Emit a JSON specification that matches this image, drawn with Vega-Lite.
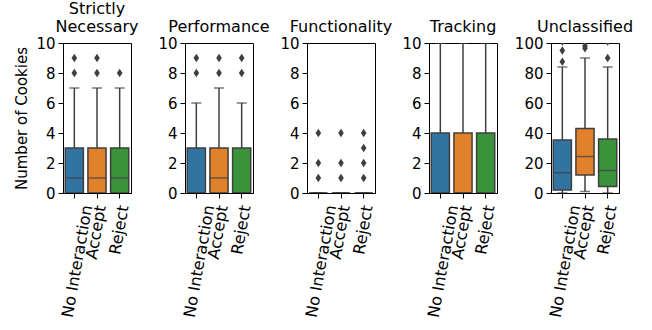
{
  "$schema": "https://vega.github.io/schema/vega-lite/v6.json",
  "background": "white",
  "padding": {"left": 14, "top": 0, "right": 5, "bottom": 0},
  "bounds": "flush",
  "spacing": 54,
  "config": {
    "font": "DejaVu Sans",
    "view": {"stroke": "black", "strokeWidth": 1},
    "axis": {"grid": false, "domainColor": "black", "tickColor": "black", "labelColor": "black", "titleColor": "black", "labelFontSize": 15, "titleFontSize": 15, "titleFontWeight": "normal", "labelFont": "DejaVu Sans", "titleFont": "DejaVu Sans", "tickSize": 5},
    "axisY": {"labelPadding": 3, "titlePadding": 6},
    "axisX": {"labelFontSize": 16},
    "title": {"fontSize": 16, "fontWeight": "normal", "font": "DejaVu Sans", "color": "black", "baseline": "alphabetic", "offset": 1, "lineHeight": 18}
  },
  "datasets": {
    "stats": [
      {"panel": "Strictly Necessary", "group": "No Interaction", "lower": 0, "q1": 0, "median": 1, "q3": 3, "upper": 7},
      {"panel": "Strictly Necessary", "group": "Accept", "lower": 0, "q1": 0, "median": 1, "q3": 3, "upper": 7},
      {"panel": "Strictly Necessary", "group": "Reject", "lower": 0, "q1": 0, "median": 1, "q3": 3, "upper": 7},
      {"panel": "Performance", "group": "No Interaction", "lower": 0, "q1": 0, "median": 0, "q3": 3, "upper": 6},
      {"panel": "Performance", "group": "Accept", "lower": 0, "q1": 0, "median": 1, "q3": 3, "upper": 7},
      {"panel": "Performance", "group": "Reject", "lower": 0, "q1": 0, "median": 0, "q3": 3, "upper": 6},
      {"panel": "Functionality", "group": "No Interaction", "lower": 0, "q1": 0, "median": 0, "q3": 0, "upper": 0},
      {"panel": "Functionality", "group": "Accept", "lower": 0, "q1": 0, "median": 0, "q3": 0, "upper": 0},
      {"panel": "Functionality", "group": "Reject", "lower": 0, "q1": 0, "median": 0, "q3": 0, "upper": 0},
      {"panel": "Tracking", "group": "No Interaction", "lower": 0, "q1": 0, "median": 0, "q3": 4, "upper": 10},
      {"panel": "Tracking", "group": "Accept", "lower": 0, "q1": 0, "median": 0, "q3": 4, "upper": 10},
      {"panel": "Tracking", "group": "Reject", "lower": 0, "q1": 0, "median": 0, "q3": 4, "upper": 10},
      {"panel": "Unclassified", "group": "No Interaction", "lower": 0, "q1": 2, "median": 13.5, "q3": 35.3, "upper": 84},
      {"panel": "Unclassified", "group": "Accept", "lower": 1, "q1": 12, "median": 24.3, "q3": 43, "upper": 90},
      {"panel": "Unclassified", "group": "Reject", "lower": 0, "q1": 4.3, "median": 15, "q3": 36, "upper": 84}
    ],
    "outliers": [
      {"panel": "Strictly Necessary", "group": "No Interaction", "value": 8},
      {"panel": "Strictly Necessary", "group": "No Interaction", "value": 9},
      {"panel": "Strictly Necessary", "group": "Accept", "value": 8},
      {"panel": "Strictly Necessary", "group": "Accept", "value": 9},
      {"panel": "Strictly Necessary", "group": "Reject", "value": 8},
      {"panel": "Performance", "group": "No Interaction", "value": 8},
      {"panel": "Performance", "group": "No Interaction", "value": 9},
      {"panel": "Performance", "group": "Accept", "value": 8},
      {"panel": "Performance", "group": "Accept", "value": 9},
      {"panel": "Performance", "group": "Reject", "value": 8},
      {"panel": "Performance", "group": "Reject", "value": 9},
      {"panel": "Functionality", "group": "No Interaction", "value": 1},
      {"panel": "Functionality", "group": "No Interaction", "value": 2},
      {"panel": "Functionality", "group": "No Interaction", "value": 4},
      {"panel": "Functionality", "group": "Accept", "value": 1},
      {"panel": "Functionality", "group": "Accept", "value": 2},
      {"panel": "Functionality", "group": "Accept", "value": 4},
      {"panel": "Functionality", "group": "Reject", "value": 1},
      {"panel": "Functionality", "group": "Reject", "value": 2},
      {"panel": "Functionality", "group": "Reject", "value": 3},
      {"panel": "Functionality", "group": "Reject", "value": 4},
      {"panel": "Unclassified", "group": "No Interaction", "value": 87.5},
      {"panel": "Unclassified", "group": "No Interaction", "value": 95},
      {"panel": "Unclassified", "group": "No Interaction", "value": 101},
      {"panel": "Unclassified", "group": "Accept", "value": 96.5},
      {"panel": "Unclassified", "group": "Accept", "value": 98},
      {"panel": "Unclassified", "group": "Accept", "value": 101},
      {"panel": "Unclassified", "group": "Reject", "value": 90},
      {"panel": "Unclassified", "group": "Reject", "value": 101}
    ]
  },
  "hconcat": [
    {
      "title": {"text": ["Strictly", "Necessary"]},
      "width": 68, "height": 150,
      "data": {"name": "stats"},
      "transform": [{"filter": "datum.panel == 'Strictly Necessary'"}],
      "encoding": {"x": {"field": "group", "type": "nominal", "sort": ["No Interaction", "Accept", "Reject"], "scale": {"domain": ["No Interaction", "Accept", "Reject"], "paddingInner": 0, "paddingOuter": 0}, "axis": {"title": null, "labelAngle": -80, "labelAlign": "right", "labelBaseline": "middle", "labelPadding": 7, "labelOffset": {"condition": {"test": "datum.value == 'No Interaction'", "value": 13}, "value": 4}}}},
      "layer": [
        {"mark": {"type": "rule", "color": "#3f3f3f", "strokeWidth": 1.5, "clip": true}, "encoding": {"y": {"field": "lower", "type": "quantitative", "scale": {"domain": [0, 10], "nice": false}, "axis": {"title": "Number of Cookies", "values": [0, 2, 4, 6, 8, 10]}}, "y2": {"field": "q1"}}},
        {"mark": {"type": "rule", "color": "#3f3f3f", "strokeWidth": 1.5, "clip": true}, "encoding": {"y": {"field": "q3", "type": "quantitative", "axis": {"title": "Number of Cookies", "values": [0, 2, 4, 6, 8, 10]}}, "y2": {"field": "upper"}}},
        {"mark": {"type": "tick", "color": "#3f3f3f", "size": 10, "thickness": 1.5, "clip": true}, "encoding": {"y": {"field": "lower", "type": "quantitative", "axis": {"title": "Number of Cookies", "values": [0, 2, 4, 6, 8, 10]}}}},
        {"mark": {"type": "tick", "color": "#3f3f3f", "size": 10, "thickness": 1.5, "clip": true}, "encoding": {"y": {"field": "upper", "type": "quantitative", "axis": {"title": "Number of Cookies", "values": [0, 2, 4, 6, 8, 10]}}}},
        {"mark": {"type": "bar", "width": {"band": 0.8}, "stroke": "#3f3f3f", "strokeWidth": 1.5, "opacity": 1, "clip": true}, "encoding": {"y": {"field": "q1", "type": "quantitative", "axis": {"title": "Number of Cookies", "values": [0, 2, 4, 6, 8, 10]}}, "y2": {"field": "q3"}, "color": {"field": "group", "type": "nominal", "scale": {"domain": ["No Interaction", "Accept", "Reject"], "range": ["#3274a1", "#e1812c", "#3a923a"]}, "legend": null}}},
        {"mark": {"type": "tick", "color": "#3f3f3f", "size": 18, "thickness": 1.5, "clip": true}, "encoding": {"y": {"field": "median", "type": "quantitative", "axis": {"title": "Number of Cookies", "values": [0, 2, 4, 6, 8, 10]}}}},
        {"data": {"name": "outliers"}, "transform": [{"filter": "datum.panel == 'Strictly Necessary'"}], "mark": {"type": "point", "shape": "M0,-1L0.65,0L0,1L-0.65,0Z", "filled": true, "color": "#3f3f3f", "size": 75, "opacity": 1, "clip": true}, "encoding": {"y": {"field": "value", "type": "quantitative", "axis": {"title": "Number of Cookies", "values": [0, 2, 4, 6, 8, 10]}}}}
      ]
    },
    {
      "title": {"text": "Performance"},
      "width": 68, "height": 150,
      "data": {"name": "stats"},
      "transform": [{"filter": "datum.panel == 'Performance'"}],
      "encoding": {"x": {"field": "group", "type": "nominal", "sort": ["No Interaction", "Accept", "Reject"], "scale": {"domain": ["No Interaction", "Accept", "Reject"], "paddingInner": 0, "paddingOuter": 0}, "axis": {"title": null, "labelAngle": -80, "labelAlign": "right", "labelBaseline": "middle", "labelPadding": 7, "labelOffset": {"condition": {"test": "datum.value == 'No Interaction'", "value": 13}, "value": 4}}}},
      "layer": [
        {"mark": {"type": "rule", "color": "#3f3f3f", "strokeWidth": 1.5, "clip": true}, "encoding": {"y": {"field": "lower", "type": "quantitative", "scale": {"domain": [0, 10], "nice": false}, "axis": {"title": null, "values": [0, 2, 4, 6, 8, 10]}}, "y2": {"field": "q1"}}},
        {"mark": {"type": "rule", "color": "#3f3f3f", "strokeWidth": 1.5, "clip": true}, "encoding": {"y": {"field": "q3", "type": "quantitative", "axis": {"title": null, "values": [0, 2, 4, 6, 8, 10]}}, "y2": {"field": "upper"}}},
        {"mark": {"type": "tick", "color": "#3f3f3f", "size": 10, "thickness": 1.5, "clip": true}, "encoding": {"y": {"field": "lower", "type": "quantitative", "axis": {"title": null, "values": [0, 2, 4, 6, 8, 10]}}}},
        {"mark": {"type": "tick", "color": "#3f3f3f", "size": 10, "thickness": 1.5, "clip": true}, "encoding": {"y": {"field": "upper", "type": "quantitative", "axis": {"title": null, "values": [0, 2, 4, 6, 8, 10]}}}},
        {"mark": {"type": "bar", "width": {"band": 0.8}, "stroke": "#3f3f3f", "strokeWidth": 1.5, "opacity": 1, "clip": true}, "encoding": {"y": {"field": "q1", "type": "quantitative", "axis": {"title": null, "values": [0, 2, 4, 6, 8, 10]}}, "y2": {"field": "q3"}, "color": {"field": "group", "type": "nominal", "scale": {"domain": ["No Interaction", "Accept", "Reject"], "range": ["#3274a1", "#e1812c", "#3a923a"]}, "legend": null}}},
        {"mark": {"type": "tick", "color": "#3f3f3f", "size": 18, "thickness": 1.5, "clip": true}, "encoding": {"y": {"field": "median", "type": "quantitative", "axis": {"title": null, "values": [0, 2, 4, 6, 8, 10]}}}},
        {"data": {"name": "outliers"}, "transform": [{"filter": "datum.panel == 'Performance'"}], "mark": {"type": "point", "shape": "M0,-1L0.65,0L0,1L-0.65,0Z", "filled": true, "color": "#3f3f3f", "size": 75, "opacity": 1, "clip": true}, "encoding": {"y": {"field": "value", "type": "quantitative", "axis": {"title": null, "values": [0, 2, 4, 6, 8, 10]}}}}
      ]
    },
    {
      "title": {"text": "Functionality"},
      "width": 68, "height": 150,
      "data": {"name": "stats"},
      "transform": [{"filter": "datum.panel == 'Functionality'"}],
      "encoding": {"x": {"field": "group", "type": "nominal", "sort": ["No Interaction", "Accept", "Reject"], "scale": {"domain": ["No Interaction", "Accept", "Reject"], "paddingInner": 0, "paddingOuter": 0}, "axis": {"title": null, "labelAngle": -80, "labelAlign": "right", "labelBaseline": "middle", "labelPadding": 7, "labelOffset": {"condition": {"test": "datum.value == 'No Interaction'", "value": 13}, "value": 4}}}},
      "layer": [
        {"mark": {"type": "rule", "color": "#3f3f3f", "strokeWidth": 1.5, "clip": true}, "encoding": {"y": {"field": "lower", "type": "quantitative", "scale": {"domain": [0, 10], "nice": false}, "axis": {"title": null, "values": [0, 2, 4, 6, 8, 10]}}, "y2": {"field": "q1"}}},
        {"mark": {"type": "rule", "color": "#3f3f3f", "strokeWidth": 1.5, "clip": true}, "encoding": {"y": {"field": "q3", "type": "quantitative", "axis": {"title": null, "values": [0, 2, 4, 6, 8, 10]}}, "y2": {"field": "upper"}}},
        {"mark": {"type": "tick", "color": "#3f3f3f", "size": 10, "thickness": 1.5, "clip": true}, "encoding": {"y": {"field": "lower", "type": "quantitative", "axis": {"title": null, "values": [0, 2, 4, 6, 8, 10]}}}},
        {"mark": {"type": "tick", "color": "#3f3f3f", "size": 10, "thickness": 1.5, "clip": true}, "encoding": {"y": {"field": "upper", "type": "quantitative", "axis": {"title": null, "values": [0, 2, 4, 6, 8, 10]}}}},
        {"mark": {"type": "bar", "width": {"band": 0.8}, "stroke": "#3f3f3f", "strokeWidth": 1.5, "opacity": 1, "clip": true}, "encoding": {"y": {"field": "q1", "type": "quantitative", "axis": {"title": null, "values": [0, 2, 4, 6, 8, 10]}}, "y2": {"field": "q3"}, "color": {"field": "group", "type": "nominal", "scale": {"domain": ["No Interaction", "Accept", "Reject"], "range": ["#3274a1", "#e1812c", "#3a923a"]}, "legend": null}}},
        {"mark": {"type": "tick", "color": "#3f3f3f", "size": 18, "thickness": 1.5, "clip": true}, "encoding": {"y": {"field": "median", "type": "quantitative", "axis": {"title": null, "values": [0, 2, 4, 6, 8, 10]}}}},
        {"data": {"name": "outliers"}, "transform": [{"filter": "datum.panel == 'Functionality'"}], "mark": {"type": "point", "shape": "M0,-1L0.65,0L0,1L-0.65,0Z", "filled": true, "color": "#3f3f3f", "size": 75, "opacity": 1, "clip": true}, "encoding": {"y": {"field": "value", "type": "quantitative", "axis": {"title": null, "values": [0, 2, 4, 6, 8, 10]}}}}
      ]
    },
    {
      "title": {"text": "Tracking"},
      "width": 68, "height": 150,
      "data": {"name": "stats"},
      "transform": [{"filter": "datum.panel == 'Tracking'"}],
      "encoding": {"x": {"field": "group", "type": "nominal", "sort": ["No Interaction", "Accept", "Reject"], "scale": {"domain": ["No Interaction", "Accept", "Reject"], "paddingInner": 0, "paddingOuter": 0}, "axis": {"title": null, "labelAngle": -80, "labelAlign": "right", "labelBaseline": "middle", "labelPadding": 7, "labelOffset": {"condition": {"test": "datum.value == 'No Interaction'", "value": 13}, "value": 4}}}},
      "layer": [
        {"mark": {"type": "rule", "color": "#3f3f3f", "strokeWidth": 1.5, "clip": true}, "encoding": {"y": {"field": "lower", "type": "quantitative", "scale": {"domain": [0, 10], "nice": false}, "axis": {"title": null, "values": [0, 2, 4, 6, 8, 10]}}, "y2": {"field": "q1"}}},
        {"mark": {"type": "rule", "color": "#3f3f3f", "strokeWidth": 1.5, "clip": true}, "encoding": {"y": {"field": "q3", "type": "quantitative", "axis": {"title": null, "values": [0, 2, 4, 6, 8, 10]}}, "y2": {"field": "upper"}}},
        {"mark": {"type": "tick", "color": "#3f3f3f", "size": 10, "thickness": 1.5, "clip": true}, "encoding": {"y": {"field": "lower", "type": "quantitative", "axis": {"title": null, "values": [0, 2, 4, 6, 8, 10]}}}},
        {"mark": {"type": "tick", "color": "#3f3f3f", "size": 10, "thickness": 1.5, "clip": true}, "encoding": {"y": {"field": "upper", "type": "quantitative", "axis": {"title": null, "values": [0, 2, 4, 6, 8, 10]}}}},
        {"mark": {"type": "bar", "width": {"band": 0.8}, "stroke": "#3f3f3f", "strokeWidth": 1.5, "opacity": 1, "clip": true}, "encoding": {"y": {"field": "q1", "type": "quantitative", "axis": {"title": null, "values": [0, 2, 4, 6, 8, 10]}}, "y2": {"field": "q3"}, "color": {"field": "group", "type": "nominal", "scale": {"domain": ["No Interaction", "Accept", "Reject"], "range": ["#3274a1", "#e1812c", "#3a923a"]}, "legend": null}}},
        {"mark": {"type": "tick", "color": "#3f3f3f", "size": 18, "thickness": 1.5, "clip": true}, "encoding": {"y": {"field": "median", "type": "quantitative", "axis": {"title": null, "values": [0, 2, 4, 6, 8, 10]}}}}
      ]
    },
    {
      "title": {"text": "Unclassified"},
      "width": 68, "height": 150,
      "data": {"name": "stats"},
      "transform": [{"filter": "datum.panel == 'Unclassified'"}],
      "encoding": {"x": {"field": "group", "type": "nominal", "sort": ["No Interaction", "Accept", "Reject"], "scale": {"domain": ["No Interaction", "Accept", "Reject"], "paddingInner": 0, "paddingOuter": 0}, "axis": {"title": null, "labelAngle": -80, "labelAlign": "right", "labelBaseline": "middle", "labelPadding": 7, "labelOffset": {"condition": {"test": "datum.value == 'No Interaction'", "value": 13}, "value": 4}}}},
      "layer": [
        {"mark": {"type": "rule", "color": "#3f3f3f", "strokeWidth": 1.5, "clip": true}, "encoding": {"y": {"field": "lower", "type": "quantitative", "scale": {"domain": [0, 100], "nice": false}, "axis": {"title": null, "values": [0, 20, 40, 60, 80, 100]}}, "y2": {"field": "q1"}}},
        {"mark": {"type": "rule", "color": "#3f3f3f", "strokeWidth": 1.5, "clip": true}, "encoding": {"y": {"field": "q3", "type": "quantitative", "axis": {"title": null, "values": [0, 20, 40, 60, 80, 100]}}, "y2": {"field": "upper"}}},
        {"mark": {"type": "tick", "color": "#3f3f3f", "size": 10, "thickness": 1.5, "clip": true}, "encoding": {"y": {"field": "lower", "type": "quantitative", "axis": {"title": null, "values": [0, 20, 40, 60, 80, 100]}}}},
        {"mark": {"type": "tick", "color": "#3f3f3f", "size": 10, "thickness": 1.5, "clip": true}, "encoding": {"y": {"field": "upper", "type": "quantitative", "axis": {"title": null, "values": [0, 20, 40, 60, 80, 100]}}}},
        {"mark": {"type": "bar", "width": {"band": 0.8}, "stroke": "#3f3f3f", "strokeWidth": 1.5, "opacity": 1, "clip": true}, "encoding": {"y": {"field": "q1", "type": "quantitative", "axis": {"title": null, "values": [0, 20, 40, 60, 80, 100]}}, "y2": {"field": "q3"}, "color": {"field": "group", "type": "nominal", "scale": {"domain": ["No Interaction", "Accept", "Reject"], "range": ["#3274a1", "#e1812c", "#3a923a"]}, "legend": null}}},
        {"mark": {"type": "tick", "color": "#3f3f3f", "size": 18, "thickness": 1.5, "clip": true}, "encoding": {"y": {"field": "median", "type": "quantitative", "axis": {"title": null, "values": [0, 20, 40, 60, 80, 100]}}}},
        {"data": {"name": "outliers"}, "transform": [{"filter": "datum.panel == 'Unclassified'"}], "mark": {"type": "point", "shape": "M0,-1L0.65,0L0,1L-0.65,0Z", "filled": true, "color": "#3f3f3f", "size": 75, "opacity": 1, "clip": true}, "encoding": {"y": {"field": "value", "type": "quantitative", "axis": {"title": null, "values": [0, 20, 40, 60, 80, 100]}}}}
      ]
    }
  ]
}
